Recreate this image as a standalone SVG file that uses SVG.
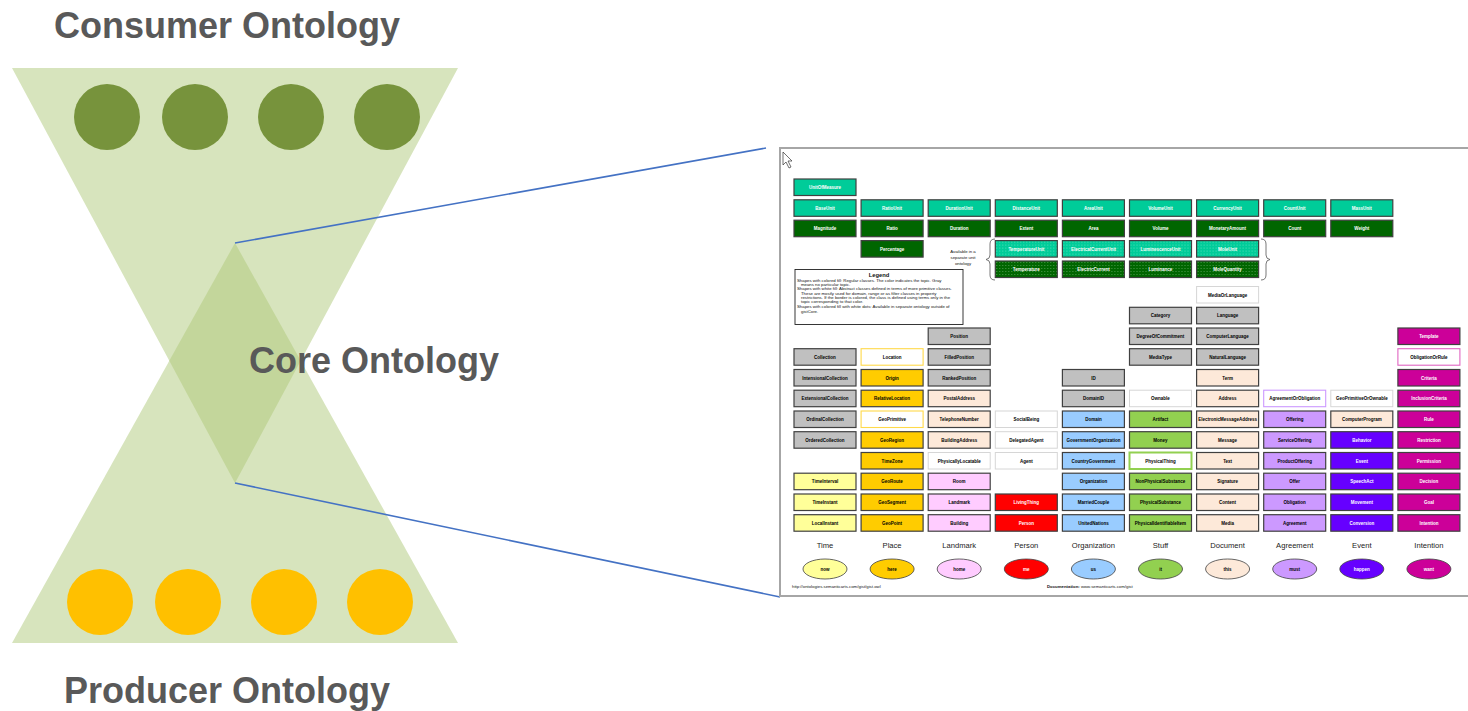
<svg xmlns="http://www.w3.org/2000/svg" width="1468" height="711" viewBox="0 0 1468 711">
<style>
.title{font-family:'Liberation Sans',Arial,sans-serif;font-weight:bold;font-size:36px;fill:#595959}
.b{stroke:#404040;stroke-width:1.2}
.t{font-family:'Liberation Sans',Arial,sans-serif;font-weight:bold;font-size:4.5px;text-anchor:middle;fill:#000}
.tw{fill:#fff}
.teal{fill:#00cc99}.dg{fill:#006600}.gray{fill:#c0c0c0}.yel{fill:#ffcc00}.ly{fill:#ffff99}
.pink{fill:#ffccff}.red{fill:#ff0000}.blue{fill:#99ccff}.grn{fill:#92d050}.peach{fill:#fde9d9}
.lav{fill:#cc99ff}.pur{fill:#6600ff}.mag{fill:#cc0099}
.wh{fill:#fff;stroke:#d6d6d6;stroke-width:1}
.cl{font-family:'Liberation Sans',Arial,sans-serif;font-size:7.6px;text-anchor:middle;fill:#222}
.sm{font-family:'Liberation Sans',Arial,sans-serif;font-size:4.3px;fill:#111}
.el{stroke:#404040;stroke-width:0.8}
</style>
<defs>
<pattern id="dotsT" width="3" height="3" patternUnits="userSpaceOnUse"><rect width="3" height="3" fill="#00cc99"/><rect x="1" y="1" width="0.6" height="0.6" fill="#e8fff6"/></pattern>
<pattern id="dotsG" width="3" height="3" patternUnits="userSpaceOnUse"><rect width="3" height="3" fill="#006600"/><rect x="1" y="1" width="0.7" height="0.7" fill="#9fd09f"/></pattern>
<rect id="box" width="62" height="16.5"/>
</defs>
<rect width="1468" height="711" fill="#fff"/>
<!-- left funnel -->
<g id="funnel">
<polygon points="12,68 458,68 235,483" fill="#d7e4bd"/>
<polygon points="12,643 458,643 235,243" fill="#d7e4bd"/>
<polygon points="235,243 300.7,360.8 235,483 169.3,360.8" fill="#c3d69b"/>
</g>
<g id="consumers" fill="#77933c">
<circle cx="107" cy="117" r="33"/><circle cx="195" cy="117" r="33"/><circle cx="291" cy="117" r="33"/><circle cx="387" cy="117" r="33"/>
</g>
<g id="producers" fill="#ffc000">
<circle cx="100" cy="602" r="33"/><circle cx="188" cy="602" r="33"/><circle cx="284" cy="602" r="33"/><circle cx="380" cy="602" r="33"/>
</g>
<text class="title" x="227" y="38" text-anchor="middle">Consumer Ontology</text>
<text class="title" x="374" y="373" text-anchor="middle">Core Ontology</text>
<text class="title" x="227" y="703" text-anchor="middle">Producer Ontology</text>
<g id="connectors" stroke="#4472c4" stroke-width="1.6" fill="none">
<line x1="235" y1="243" x2="766" y2="148"/>
<line x1="235" y1="483" x2="780" y2="597"/>
</g>
<!-- panel -->
<g id="panel">
<rect x="780" y="148" width="700" height="448" fill="#fff" stroke="#a6a6a6" stroke-width="2"/>
<polygon points="783,152 783,165 786,162 789,168 791,167 788,161 792,161" fill="#fff" stroke="#333" stroke-width="0.7"/>
</g>
<!-- upper unit rows -->
<g id="UnitOfMeasure" transform="translate(794,179)"><use href="#box" class="teal b"/><text class="t tw" x="31" y="10.2">UnitOfMeasure</text></g>
<g id="BaseUnit" transform="translate(794,199.8)"><use href="#box" class="teal b"/><text class="t tw" x="31" y="10.2">BaseUnit</text></g>
<g id="Magnitude" transform="translate(794,220.2)"><use href="#box" class="dg b"/><text class="t tw" x="31" y="10.2">Magnitude</text></g>
<g id="RatioUnit" transform="translate(861.1,199.8)"><use href="#box" class="teal b"/><text class="t tw" x="31" y="10.2">RatioUnit</text></g>
<g id="Ratio" transform="translate(861.1,220.2)"><use href="#box" class="dg b"/><text class="t tw" x="31" y="10.2">Ratio</text></g>
<g id="Percentage" transform="translate(861.1,240.6)"><use href="#box" class="dg b"/><text class="t tw" x="31" y="10.2">Percentage</text></g>
<g id="DurationUnit" transform="translate(928.2,199.8)"><use href="#box" class="teal b"/><text class="t tw" x="31" y="10.2">DurationUnit</text></g>
<g id="Duration" transform="translate(928.2,220.2)"><use href="#box" class="dg b"/><text class="t tw" x="31" y="10.2">Duration</text></g>
<g id="DistanceUnit" transform="translate(995.3,199.8)"><use href="#box" class="teal b"/><text class="t tw" x="31" y="10.2">DistanceUnit</text></g>
<g id="Extent" transform="translate(995.3,220.2)"><use href="#box" class="dg b"/><text class="t tw" x="31" y="10.2">Extent</text></g>
<g id="TemperatureUnit" transform="translate(995.3,240.6)"><use href="#box" class="b" fill="url(#dotsT)"/><text class="t tw" x="31" y="10.2">TemperatureUnit</text></g>
<g id="Temperature" transform="translate(995.3,261)"><use href="#box" class="b" fill="url(#dotsG)"/><text class="t tw" x="31" y="10.2">Temperature</text></g>
<g id="AreaUnit" transform="translate(1062.4,199.8)"><use href="#box" class="teal b"/><text class="t tw" x="31" y="10.2">AreaUnit</text></g>
<g id="Area" transform="translate(1062.4,220.2)"><use href="#box" class="dg b"/><text class="t tw" x="31" y="10.2">Area</text></g>
<g id="ElectricalCurrentUnit" transform="translate(1062.4,240.6)"><use href="#box" class="b" fill="url(#dotsT)"/><text class="t tw" x="31" y="10.2">ElectricalCurrentUnit</text></g>
<g id="ElectricCurrent" transform="translate(1062.4,261)"><use href="#box" class="b" fill="url(#dotsG)"/><text class="t tw" x="31" y="10.2">ElectricCurrent</text></g>
<g id="VolumeUnit" transform="translate(1129.5,199.8)"><use href="#box" class="teal b"/><text class="t tw" x="31" y="10.2">VolumeUnit</text></g>
<g id="Volume" transform="translate(1129.5,220.2)"><use href="#box" class="dg b"/><text class="t tw" x="31" y="10.2">Volume</text></g>
<g id="LuminescenceUnit" transform="translate(1129.5,240.6)"><use href="#box" class="b" fill="url(#dotsT)"/><text class="t tw" x="31" y="10.2">LuminescenceUnit</text></g>
<g id="Luminance" transform="translate(1129.5,261)"><use href="#box" class="b" fill="url(#dotsG)"/><text class="t tw" x="31" y="10.2">Luminance</text></g>
<g id="CurrencyUnit" transform="translate(1196.6,199.8)"><use href="#box" class="teal b"/><text class="t tw" x="31" y="10.2">CurrencyUnit</text></g>
<g id="MonetaryAmount" transform="translate(1196.6,220.2)"><use href="#box" class="dg b"/><text class="t tw" x="31" y="10.2">MonetaryAmount</text></g>
<g id="MoleUnit" transform="translate(1196.6,240.6)"><use href="#box" class="b" fill="url(#dotsT)"/><text class="t tw" x="31" y="10.2">MoleUnit</text></g>
<g id="MoleQuantity" transform="translate(1196.6,261)"><use href="#box" class="b" fill="url(#dotsG)"/><text class="t tw" x="31" y="10.2">MoleQuantity</text></g>
<g id="CountUnit" transform="translate(1263.7,199.8)"><use href="#box" class="teal b"/><text class="t tw" x="31" y="10.2">CountUnit</text></g>
<g id="Count" transform="translate(1263.7,220.2)"><use href="#box" class="dg b"/><text class="t tw" x="31" y="10.2">Count</text></g>
<g id="MassUnit" transform="translate(1330.8,199.8)"><use href="#box" class="teal b"/><text class="t tw" x="31" y="10.2">MassUnit</text></g>
<g id="Weight" transform="translate(1330.8,220.2)"><use href="#box" class="dg b"/><text class="t tw" x="31" y="10.2">Weight</text></g>
<!-- unit note and braces -->
<g id="unitNote">
<text class="sm" x="963" y="253.3" text-anchor="middle">Available in a</text>
<text class="sm" x="963" y="259" text-anchor="middle">separate unit</text>
<text class="sm" x="963" y="264.7" text-anchor="middle">ontology</text>
<path d="M995,239 Q990,239 990,244 L990,255 Q990,259 986,259.5 Q990,260 990,264 L990,275 Q990,280 995,280" fill="none" stroke="#555" stroke-width="0.8"/>
<path d="M1261,239 Q1266,239 1266,244 L1266,255 Q1266,259 1270,259.5 Q1266,260 1266,264 L1266,275 Q1266,280 1261,280" fill="none" stroke="#555" stroke-width="0.8"/>
</g>
<!-- legend -->
<g id="legend">
<rect x="795" y="269.5" width="168" height="55" fill="#fff" stroke="#222" stroke-width="0.9"/>
<text x="879" y="276.5" text-anchor="middle" font-family="'Liberation Sans',Arial,sans-serif" font-size="5.8" font-weight="bold" fill="#111">Legend</text>
<text class="sm" x="797" y="281.5">Shapes with colored fill: Regular classes. The color indicates the topic. Gray</text>
<text class="sm" x="801" y="285.8">means no particular topic.</text>
<text class="sm" x="797" y="290.3">Shapes with white fill: Abstract classes defined in terms of more primitive classes.</text>
<text class="sm" x="801" y="294.7">These are mostly used for domain, range or as filter classes in property</text>
<text class="sm" x="801" y="299">restrictions. If the border is colored, the class is defined using terms only in the</text>
<text class="sm" x="801" y="303.3">topic corresponding to that color.</text>
<text class="sm" x="797" y="308.2">Shapes with colored fill with white dots: Available in separate ontology outside of</text>
<text class="sm" x="801" y="312.5">gistCore.</text>
</g>
<!-- column 0 Time -->
<g id="Collection" transform="translate(794,348.7)"><use href="#box" class="gray b"/><text class="t" x="31" y="10.2">Collection</text></g>
<g id="IntensionalCollection" transform="translate(794,369.5)"><use href="#box" class="gray b"/><text class="t" x="31" y="10.2">IntensionalCollection</text></g>
<g id="ExtensionalCollection" transform="translate(794,390.2)"><use href="#box" class="gray b"/><text class="t" x="31" y="10.2">ExtensionalCollection</text></g>
<g id="OrdinalCollection" transform="translate(794,411)"><use href="#box" class="gray b"/><text class="t" x="31" y="10.2">OrdinalCollection</text></g>
<g id="OrderedCollection" transform="translate(794,431.7)"><use href="#box" class="gray b"/><text class="t" x="31" y="10.2">OrderedCollection</text></g>
<g id="TimeInterval" transform="translate(794,473.2)"><use href="#box" class="ly b"/><text class="t" x="31" y="10.2">TimeInterval</text></g>
<g id="TimeInstant" transform="translate(794,494)"><use href="#box" class="ly b"/><text class="t" x="31" y="10.2">TimeInstant</text></g>
<g id="LocalInstant" transform="translate(794,514.7)"><use href="#box" class="ly b"/><text class="t" x="31" y="10.2">LocalInstant</text></g>
<!-- column 1 Place -->
<g id="Location" transform="translate(861.1,348.7)"><use href="#box" fill="#fff" stroke="#ffd94a" stroke-width="1.1"/><text class="t" x="31" y="10.2">Location</text></g>
<g id="Origin" transform="translate(861.1,369.5)"><use href="#box" class="yel b"/><text class="t" x="31" y="10.2">Origin</text></g>
<g id="RelativeLocation" transform="translate(861.1,390.2)"><use href="#box" class="yel b"/><text class="t" x="31" y="10.2">RelativeLocation</text></g>
<g id="GeoPrimitive" transform="translate(861.1,411)"><use href="#box" fill="#fff" stroke="#ffd94a" stroke-width="1.1"/><text class="t" x="31" y="10.2">GeoPrimitive</text></g>
<g id="GeoRegion" transform="translate(861.1,431.7)"><use href="#box" class="yel b"/><text class="t" x="31" y="10.2">GeoRegion</text></g>
<g id="TimeZone" transform="translate(861.1,452.5)"><use href="#box" class="yel b"/><text class="t" x="31" y="10.2">TimeZone</text></g>
<g id="GeoRoute" transform="translate(861.1,473.2)"><use href="#box" class="yel b"/><text class="t" x="31" y="10.2">GeoRoute</text></g>
<g id="GeoSegment" transform="translate(861.1,494)"><use href="#box" class="yel b"/><text class="t" x="31" y="10.2">GeoSegment</text></g>
<g id="GeoPoint" transform="translate(861.1,514.7)"><use href="#box" class="yel b"/><text class="t" x="31" y="10.2">GeoPoint</text></g>
<!-- column 2 Landmark -->
<g id="Position" transform="translate(928.2,328)"><use href="#box" class="gray b"/><text class="t" x="31" y="10.2">Position</text></g>
<g id="FilledPosition" transform="translate(928.2,348.7)"><use href="#box" class="gray b"/><text class="t" x="31" y="10.2">FilledPosition</text></g>
<g id="RankedPosition" transform="translate(928.2,369.5)"><use href="#box" class="gray b"/><text class="t" x="31" y="10.2">RankedPosition</text></g>
<g id="PostalAddress" transform="translate(928.2,390.2)"><use href="#box" class="peach b"/><text class="t" x="31" y="10.2">PostalAddress</text></g>
<g id="TelephoneNumber" transform="translate(928.2,411)"><use href="#box" class="peach b"/><text class="t" x="31" y="10.2">TelephoneNumber</text></g>
<g id="BuildingAddress" transform="translate(928.2,431.7)"><use href="#box" class="peach b"/><text class="t" x="31" y="10.2">BuildingAddress</text></g>
<g id="PhysicallyLocatable" transform="translate(928.2,452.5)"><use href="#box" class="wh"/><text class="t" x="31" y="10.2">PhysicallyLocatable</text></g>
<g id="Room" transform="translate(928.2,473.2)"><use href="#box" class="pink b"/><text class="t" x="31" y="10.2">Room</text></g>
<g id="Landmark" transform="translate(928.2,494)"><use href="#box" class="pink b"/><text class="t" x="31" y="10.2">Landmark</text></g>
<g id="Building" transform="translate(928.2,514.7)"><use href="#box" class="pink b"/><text class="t" x="31" y="10.2">Building</text></g>
<!-- column 3 Person -->
<g id="SocialBeing" transform="translate(995.3,411)"><use href="#box" class="wh"/><text class="t" x="31" y="10.2">SocialBeing</text></g>
<g id="DelegatedAgent" transform="translate(995.3,431.7)"><use href="#box" class="wh"/><text class="t" x="31" y="10.2">DelegatedAgent</text></g>
<g id="Agent" transform="translate(995.3,452.5)"><use href="#box" class="wh"/><text class="t" x="31" y="10.2">Agent</text></g>
<g id="LivingThing" transform="translate(995.3,494)"><use href="#box" class="red b"/><text class="t tw" x="31" y="10.2">LivingThing</text></g>
<g id="Person" transform="translate(995.3,514.7)"><use href="#box" class="red b"/><text class="t tw" x="31" y="10.2">Person</text></g>
<!-- column 4 Organization -->
<g id="ID" transform="translate(1062.4,369.5)"><use href="#box" class="gray b"/><text class="t" x="31" y="10.2">ID</text></g>
<g id="DomainID" transform="translate(1062.4,390.2)"><use href="#box" class="gray b"/><text class="t" x="31" y="10.2">DomainID</text></g>
<g id="Domain" transform="translate(1062.4,411)"><use href="#box" class="blue b"/><text class="t" x="31" y="10.2">Domain</text></g>
<g id="GovernmentOrganization" transform="translate(1062.4,431.7)"><use href="#box" class="blue b"/><text class="t" x="31" y="10.2">GovernmentOrganization</text></g>
<g id="CountryGovernment" transform="translate(1062.4,452.5)"><use href="#box" class="blue b"/><text class="t" x="31" y="10.2">CountryGovernment</text></g>
<g id="Organization" transform="translate(1062.4,473.2)"><use href="#box" class="blue b"/><text class="t" x="31" y="10.2">Organization</text></g>
<g id="MarriedCouple" transform="translate(1062.4,494)"><use href="#box" class="blue b"/><text class="t" x="31" y="10.2">MarriedCouple</text></g>
<g id="UnitedNations" transform="translate(1062.4,514.7)"><use href="#box" class="blue b"/><text class="t" x="31" y="10.2">UnitedNations</text></g>
<!-- column 5 Stuff -->
<g id="Category" transform="translate(1129.5,307.3)"><use href="#box" class="gray b"/><text class="t" x="31" y="10.2">Category</text></g>
<g id="DegreeOfCommitment" transform="translate(1129.5,328)"><use href="#box" class="gray b"/><text class="t" x="31" y="10.2">DegreeOfCommitment</text></g>
<g id="MediaType" transform="translate(1129.5,348.7)"><use href="#box" class="gray b"/><text class="t" x="31" y="10.2">MediaType</text></g>
<g id="Ownable" transform="translate(1129.5,390.2)"><use href="#box" class="wh"/><text class="t" x="31" y="10.2">Ownable</text></g>
<g id="Artifact" transform="translate(1129.5,411)"><use href="#box" class="grn b"/><text class="t" x="31" y="10.2">Artifact</text></g>
<g id="Money" transform="translate(1129.5,431.7)"><use href="#box" class="grn b"/><text class="t" x="31" y="10.2">Money</text></g>
<g id="PhysicalThing" transform="translate(1129.5,452.5)"><use href="#box" fill="#fff" stroke="#92d050" stroke-width="2"/><text class="t" x="31" y="10.2">PhysicalThing</text></g>
<g id="NonPhysicalSubstance" transform="translate(1129.5,473.2)"><use href="#box" class="grn b"/><text class="t" x="31" y="10.2">NonPhysicalSubstance</text></g>
<g id="PhysicalSubstance" transform="translate(1129.5,494)"><use href="#box" class="grn b"/><text class="t" x="31" y="10.2">PhysicalSubstance</text></g>
<g id="PhysicalIdentifiableItem" transform="translate(1129.5,514.7)"><use href="#box" class="grn b"/><text class="t" x="31" y="10.2">PhysicalIdentifiableItem</text></g>
<!-- column 6 Document -->
<g id="MediaOrLanguage" transform="translate(1196.6,286.5)"><use href="#box" class="wh"/><text class="t" x="31" y="10.2">MediaOrLanguage</text></g>
<g id="Language" transform="translate(1196.6,307.3)"><use href="#box" class="gray b"/><text class="t" x="31" y="10.2">Language</text></g>
<g id="ComputerLanguage" transform="translate(1196.6,328)"><use href="#box" class="gray b"/><text class="t" x="31" y="10.2">ComputerLanguage</text></g>
<g id="NaturalLanguage" transform="translate(1196.6,348.7)"><use href="#box" class="gray b"/><text class="t" x="31" y="10.2">NaturalLanguage</text></g>
<g id="Term" transform="translate(1196.6,369.5)"><use href="#box" class="peach b"/><text class="t" x="31" y="10.2">Term</text></g>
<g id="Address" transform="translate(1196.6,390.2)"><use href="#box" class="peach b"/><text class="t" x="31" y="10.2">Address</text></g>
<g id="ElectronicMessageAddress" transform="translate(1196.6,411)"><use href="#box" class="peach b"/><text class="t" x="31" y="10.2">ElectronicMessageAddress</text></g>
<g id="Message" transform="translate(1196.6,431.7)"><use href="#box" class="peach b"/><text class="t" x="31" y="10.2">Message</text></g>
<g id="Text" transform="translate(1196.6,452.5)"><use href="#box" class="peach b"/><text class="t" x="31" y="10.2">Text</text></g>
<g id="Signature" transform="translate(1196.6,473.2)"><use href="#box" class="peach b"/><text class="t" x="31" y="10.2">Signature</text></g>
<g id="Content" transform="translate(1196.6,494)"><use href="#box" class="peach b"/><text class="t" x="31" y="10.2">Content</text></g>
<g id="Media" transform="translate(1196.6,514.7)"><use href="#box" class="peach b"/><text class="t" x="31" y="10.2">Media</text></g>
<!-- column 7 Agreement -->
<g id="AgreementOrObligation" transform="translate(1263.7,390.2)"><use href="#box" fill="#fff" stroke="#cc99ff" stroke-width="1.1"/><text class="t" x="31" y="10.2">AgreementOrObligation</text></g>
<g id="Offering" transform="translate(1263.7,411)"><use href="#box" class="lav b"/><text class="t" x="31" y="10.2">Offering</text></g>
<g id="ServiceOffering" transform="translate(1263.7,431.7)"><use href="#box" class="lav b"/><text class="t" x="31" y="10.2">ServiceOffering</text></g>
<g id="ProductOffering" transform="translate(1263.7,452.5)"><use href="#box" class="lav b"/><text class="t" x="31" y="10.2">ProductOffering</text></g>
<g id="Offer" transform="translate(1263.7,473.2)"><use href="#box" class="lav b"/><text class="t" x="31" y="10.2">Offer</text></g>
<g id="Obligation" transform="translate(1263.7,494)"><use href="#box" class="lav b"/><text class="t" x="31" y="10.2">Obligation</text></g>
<g id="Agreement" transform="translate(1263.7,514.7)"><use href="#box" class="lav b"/><text class="t" x="31" y="10.2">Agreement</text></g>
<!-- column 8 Event -->
<g id="GeoPrimitiveOrOwnable" transform="translate(1330.8,390.2)"><use href="#box" class="wh"/><text class="t" x="31" y="10.2">GeoPrimitiveOrOwnable</text></g>
<g id="ComputerProgram" transform="translate(1330.8,411)"><use href="#box" class="peach b"/><text class="t" x="31" y="10.2">ComputerProgram</text></g>
<g id="Behavior" transform="translate(1330.8,431.7)"><use href="#box" class="pur b"/><text class="t tw" x="31" y="10.2">Behavior</text></g>
<g id="Event" transform="translate(1330.8,452.5)"><use href="#box" class="pur b"/><text class="t tw" x="31" y="10.2">Event</text></g>
<g id="SpeechAct" transform="translate(1330.8,473.2)"><use href="#box" class="pur b"/><text class="t tw" x="31" y="10.2">SpeechAct</text></g>
<g id="Movement" transform="translate(1330.8,494)"><use href="#box" class="pur b"/><text class="t tw" x="31" y="10.2">Movement</text></g>
<g id="Conversion" transform="translate(1330.8,514.7)"><use href="#box" class="pur b"/><text class="t tw" x="31" y="10.2">Conversion</text></g>
<!-- column 9 Intention -->
<g id="Template" transform="translate(1397.9,328)"><use href="#box" class="mag b"/><text class="t tw" x="31" y="10.2">Template</text></g>
<g id="ObligationOrRule" transform="translate(1397.9,348.7)"><use href="#box" fill="#fff" stroke="#e066c2" stroke-width="1.1"/><text class="t" x="31" y="10.2">ObligationOrRule</text></g>
<g id="Criteria" transform="translate(1397.9,369.5)"><use href="#box" class="mag b"/><text class="t tw" x="31" y="10.2">Criteria</text></g>
<g id="InclusionCriteria" transform="translate(1397.9,390.2)"><use href="#box" class="mag b"/><text class="t tw" x="31" y="10.2">InclusionCriteria</text></g>
<g id="Rule" transform="translate(1397.9,411)"><use href="#box" class="mag b"/><text class="t tw" x="31" y="10.2">Rule</text></g>
<g id="Restriction" transform="translate(1397.9,431.7)"><use href="#box" class="mag b"/><text class="t tw" x="31" y="10.2">Restriction</text></g>
<g id="Permission" transform="translate(1397.9,452.5)"><use href="#box" class="mag b"/><text class="t tw" x="31" y="10.2">Permission</text></g>
<g id="Decision" transform="translate(1397.9,473.2)"><use href="#box" class="mag b"/><text class="t tw" x="31" y="10.2">Decision</text></g>
<g id="Goal" transform="translate(1397.9,494)"><use href="#box" class="mag b"/><text class="t tw" x="31" y="10.2">Goal</text></g>
<g id="Intention" transform="translate(1397.9,514.7)"><use href="#box" class="mag b"/><text class="t tw" x="31" y="10.2">Intention</text></g>
<!-- column labels -->
<g id="columnLabels">
<text class="cl" x="825" y="548">Time</text>
<text class="cl" x="892.1" y="548">Place</text>
<text class="cl" x="959.2" y="548">Landmark</text>
<text class="cl" x="1026.3" y="548">Person</text>
<text class="cl" x="1093.4" y="548">Organization</text>
<text class="cl" x="1160.5" y="548">Stuff</text>
<text class="cl" x="1227.6" y="548">Document</text>
<text class="cl" x="1294.7" y="548">Agreement</text>
<text class="cl" x="1361.8" y="548">Event</text>
<text class="cl" x="1428.9" y="548">Intention</text>
</g>
<!-- ellipses -->
<g id="now"><ellipse cx="825" cy="569" rx="22" ry="10" class="ly el"/><text class="t" x="825" y="570.6">now</text></g>
<g id="here"><ellipse cx="892.1" cy="569" rx="22" ry="10" class="yel el"/><text class="t" x="892.1" y="570.6">here</text></g>
<g id="home"><ellipse cx="959.2" cy="569" rx="22" ry="10" class="pink el"/><text class="t" x="959.2" y="570.6">home</text></g>
<g id="me"><ellipse cx="1026.3" cy="569" rx="22" ry="10" class="red el"/><text class="t tw" x="1026.3" y="570.6">me</text></g>
<g id="us"><ellipse cx="1093.4" cy="569" rx="22" ry="10" class="blue el"/><text class="t" x="1093.4" y="570.6">us</text></g>
<g id="it"><ellipse cx="1160.5" cy="569" rx="22" ry="10" class="grn el"/><text class="t" x="1160.5" y="570.6">it</text></g>
<g id="this"><ellipse cx="1227.6" cy="569" rx="22" ry="10" class="peach el"/><text class="t" x="1227.6" y="570.6">this</text></g>
<g id="must"><ellipse cx="1294.7" cy="569" rx="22" ry="10" class="lav el"/><text class="t" x="1294.7" y="570.6">must</text></g>
<g id="happen"><ellipse cx="1361.8" cy="569" rx="22" ry="10" class="pur el"/><text class="t tw" x="1361.8" y="570.6">happen</text></g>
<g id="want"><ellipse cx="1428.9" cy="569" rx="22" ry="10" class="mag el"/><text class="t tw" x="1428.9" y="570.6">want</text></g>
<!-- footer -->
<text class="sm" x="792" y="588" font-size="4.6">http://ontologies.semanticarts.com/gist/gist.owl</text>
<text class="sm" x="1047" y="588" font-size="4.8"><tspan font-weight="bold">Documentation:</tspan> www.semanticarts.com/gist</text>
</svg>
